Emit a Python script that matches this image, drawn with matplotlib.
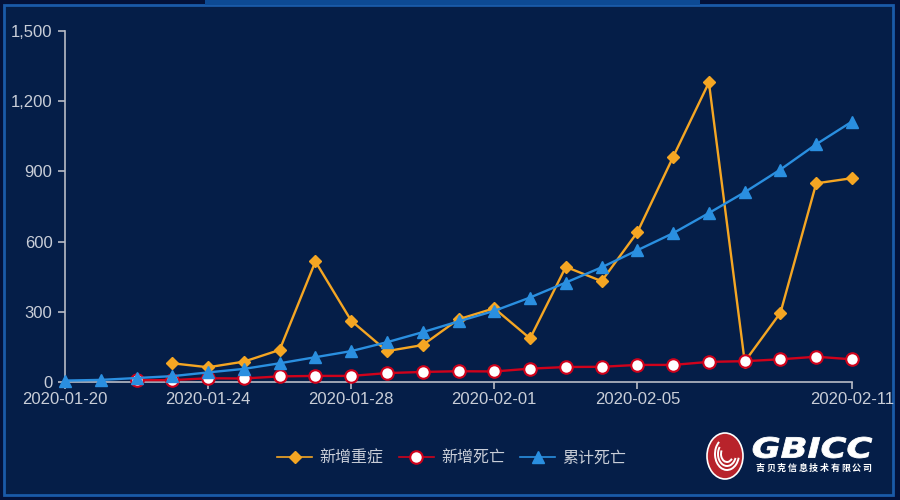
import matplotlib.pyplot as plt
from matplotlib.patches import Rectangle, Ellipse, Arc, PathPatch
from matplotlib.textpath import TextPath
from matplotlib.font_manager import FontProperties
from matplotlib.transforms import Affine2D, IdentityTransform

plt.rcParams['font.family'] = ['Noto Sans CJK SC', 'DejaVu Sans']

# dates 2020-01-20 .. 2020-02-11
dates = ['2020-01-20', '2020-01-21', '2020-01-22', '2020-01-23', '2020-01-24',
         '2020-01-25', '2020-01-26', '2020-01-27', '2020-01-28', '2020-01-29',
         '2020-01-30', '2020-01-31', '2020-02-01', '2020-02-02', '2020-02-03',
         '2020-02-04', '2020-02-05', '2020-02-06', '2020-02-07', '2020-02-08',
         '2020-02-09', '2020-02-10', '2020-02-11']
tick_idx = [0, 4, 8, 12, 16, 22]

# 新增重症 starts 01-23
severe = [None, None, None, 80, 63, 87, 137, 515, 262, 132, 158, 268, 315,
          186, 492, 431, 640, 962, 1280, 87, 296, 849, 871]
# 新增死亡 starts 01-22
new_death = [None, None, 8, 8, 16, 15, 24, 26, 26, 38, 43, 46, 45, 57, 64,
             65, 73, 73, 86, 89, 97, 108, 97]
# 累计死亡
total_death = [6, 9, 17, 25, 41, 56, 80, 106, 132, 170, 213, 259, 304, 361,
               425, 490, 563, 636, 722, 811, 908, 1016, 1113]

bg = '#051e48'
txt = '#c9ced8'

fig = plt.figure(figsize=(9, 5), dpi=100)
fig.patch.set_facecolor('#03123a')
# panel frame
fig.patches.append(Rectangle((4/900, 5/500), 889/900, 490/500, transform=fig.transFigure,
                             facecolor=bg, edgecolor='#1a5aa8', lw=2, zorder=-2))
fig.patches.append(Rectangle((205/900, 495/500), 495/900, 5/500, transform=fig.transFigure,
                             facecolor='#0d4a94', edgecolor='none', zorder=-2))

ax = fig.add_axes([65/900, 1 - 382/500, 787/900, 351/500])
ax.set_facecolor('none')

x = list(range(len(dates)))

def pts(vals):
    xs = [i for i, v in zip(x, vals) if v is not None]
    ys = [v for v in vals if v is not None]
    return xs, ys

xs, ys = pts(severe)
ax.plot(xs, ys, color='#f5a623', lw=1.7, marker='D', ms=6.5, mfc='#f5a623',
        mec='#f5a623', label='新增重症', clip_on=False, zorder=3)
xs, ys = pts(new_death)
ax.plot(xs, ys, color='#d0021b', lw=1.7, marker='o', ms=9, mfc='white',
        mec='#d0021b', mew=1.5, label='新增死亡', clip_on=False, zorder=4)
xs, ys = pts(total_death)
ax.plot(xs, ys, color='#2a8fe0', lw=1.7, marker='^', ms=8, mfc='#2a8fe0',
        mec='#2a8fe0', label='累计死亡', clip_on=False, zorder=5)

ax.set_xlim(0, 22)
ax.set_ylim(0, 1500)
ax.set_yticks(range(0, 1501, 300))
ax.set_yticklabels(['{:,}'.format(v) for v in range(0, 1501, 300)])
ax.set_xticks(tick_idx)
ax.set_xticklabels([dates[i] for i in tick_idx])
for lab in ax.get_xticklabels() + ax.get_yticklabels():
    lab.set_family('Liberation Sans')

for s in ['top', 'right']:
    ax.spines[s].set_visible(False)
for s in ['left', 'bottom']:
    ax.spines[s].set_color('#b8bcc6')
    ax.spines[s].set_linewidth(1.2)
ax.tick_params(colors='#b8bcc6', labelcolor=txt, labelsize=12, length=5, width=1.2)
ax.tick_params(axis='x', pad=2)
ax.tick_params(axis='y', pad=4)

leg = fig.legend(loc='center', bbox_to_anchor=(452/900, 1 - 458/500), ncol=3,
                 frameon=False, fontsize=11.5, labelcolor=txt, handlelength=2.2,
                 columnspacing=0.95, handletextpad=0.45, markerscale=1.0)
for line in leg.get_lines():
    line.set_linewidth(1.2)

# logo
fig.patches.append(Ellipse((725/900, 1 - 456/500), 36/900, 46/500, transform=fig.transFigure,
                           facecolor='#b8232b', edgecolor='white', lw=1.2, zorder=2))
for w, h, t1, t2 in [(24, 32, 110, 330), (18, 24, 120, 320), (12, 16, 130, 300)]:
    fig.patches.append(Arc((727/900, 1 - 454/500), w/900, h/500, theta1=t1, theta2=t2,
                           transform=fig.transFigure, color='white', lw=1.4, zorder=3))

logo_font = FontProperties(family='DejaVu Sans', weight='bold', style='italic')
tp = TextPath((0, 0), 'GBICC', size=30, prop=logo_font)
ext = tp.get_extents()
sx = 119 / ext.width
sy = 21 / ext.height
tr = Affine2D().translate(-ext.x0, -ext.y0).scale(sx, sy).translate(753, 500 - 458)
fig.patches.append(PathPatch(tr.transform_path(tp), transform=IdentityTransform(),
                             facecolor='white', edgecolor='white', lw=0.6, zorder=3))
company = '吉贝克信息技术有限公司'
for k, ch in enumerate(company):
    fig.text((760 + k * 10.7) / 900, 1 - 468.5 / 500, ch, color='white', fontsize=6.5,
             fontweight='bold', ha='center', va='center')

fig.savefig('out.png', facecolor=fig.get_facecolor())
